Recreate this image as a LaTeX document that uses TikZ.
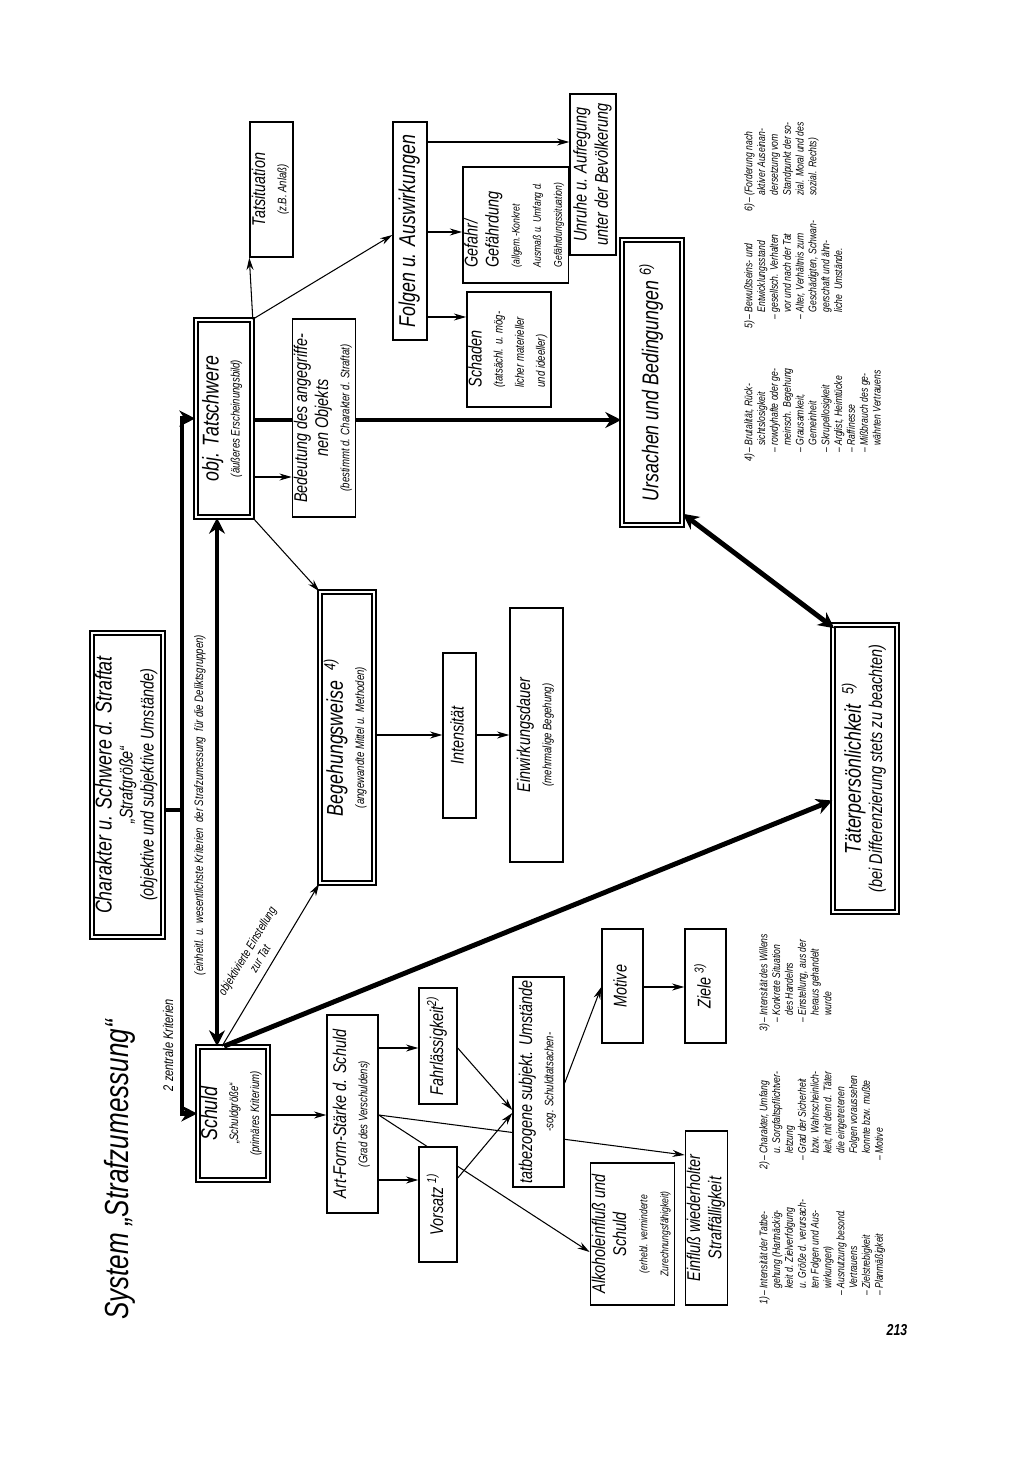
\documentclass[tikz,border=0pt]{standalone}
\usepackage{fontspec}
\setmainfont{Liberation Sans}[FakeStretch=0.78]
\usetikzlibrary{arrows.meta,calc,backgrounds}
\newcommand\rt[1]{\rotatebox{90}{\begin{tabular}{@{}c@{}}#1\end{tabular}}}
\newcommand\rtl[1]{\rotatebox{90}{\begin{tabular}{@{}l@{}}#1\end{tabular}}}
\newcommand\fz{\fontsize{5.8}{6.9}\selectfont}
\newcommand\fn{\fontsize{6.3}{7.3}\selectfont}
\newcommand\fm{\fontsize{7}{8.4}\selectfont}
\newcommand\fb{\fontsize{10.5}{12}\selectfont}
\newcommand\fB{\fontsize{13}{15}\selectfont}
\newcommand\sups[1]{\textsuperscript{#1}}
\begin{document}
\begin{tikzpicture}[x=0.02cm,y=-0.02cm,
  every node/.style={font=\itshape},
  box/.style={draw,line width=0.8pt,fill=white,inner sep=0pt},
  dbox/.style={draw,double,double distance=1.5pt,line width=0.9pt,fill=white,inner sep=0pt},
  arr/.style={-{Stealth[length=7pt,width=4pt]},line width=0.6pt},
  ln/.style={line width=0.6pt},
  thk/.style={line width=2.8pt},
  thkarr/.style={thk,-{Stealth[length=9pt,width=9pt]}},
  thkboth/.style={thk,{Stealth[length=9pt,width=9pt]}-{Stealth[length=9pt,width=9pt]}}]
\useasboundingbox (0,0) rectangle (1024,1462);
% coordinates
\coordinate (jA) at (182,810);
\foreach \v in {142,232,235,317,420,477,735,987,1048,1115,1180}{\coordinate (y\v) at (0,\v);}
% title
\node[rotate=90,font=\itshape\fontsize{19}{22}\selectfont] (title) at (120,1170) {System „Strafzumessung“};
% boxes
\node[dbox,minimum width=1.42cm,minimum height=6.08cm] (char) at (127.5,785)
  {\rt{\fB Charakter u. Schwere d. Straftat\\ \fb „Strafgröße“\\ \fb (objektive und subjektive Umstände)}};
\node[dbox,minimum width=1.40cm,minimum height=2.66cm] (schuld) at (233,1113.5)
  {\rt{\fB Schuld\\ \fm „Schuldgröße“\\ \fm (primäres Kriterium)}};
\node[dbox,minimum width=1.12cm,minimum height=3.94cm] (objT) at (224,418.5)
  {\rt{\fB obj. Tatschwere\\ \fm (äußeres Erscheinungsbild)}};
\node[box,minimum width=0.86cm,minimum height=2.7cm] (tatsit) at (271.5,189.5)
  {\rt{\fb Tatsituation\\ \fm (z.B. Anlaß)}};
\node[box,minimum width=1.16cm,minimum height=3.96cm] (bedeut) at (324,418)
  {\rt{\fb Bedeutung des angegriffe-\\ \fb nen Objekts\\ \fm (bestimmt d. Charakter d. Straftat)}};
\node[box,minimum width=0.68cm,minimum height=4.36cm] (folgen) at (410,231)
  {\rt{\fB Folgen u. Auswirkungen}};
\node[box,minimum width=1.64cm,minimum height=2.3cm] (schaden) at (509,349.5)
  {\rtl{\fb Schaden\\ \fm (tatsächl. u. mög-\\ \fm licher materieller\\ \fm und ideeller)}};
\node[box,minimum width=1.9cm,minimum height=2.32cm] (gefahr) at (515.5,225)
  {\rtl{\fb Gefahr/\\ \fb Gefährdung\\ \fn (allgem.-Konkret\\ \fn Ausmaß u. Umfang d.\\ \fn Gefährdungssituation)}};
\node[box,minimum width=0.92cm,minimum height=3.22cm] (unruhe) at (593,174.5)
  {\rt{\fb Unruhe u. Aufregung\\ \fb unter der Bevölkerung}};
\node[dbox,minimum width=1.2cm,minimum height=5.7cm] (urs) at (652,382.5)
  {\rt{\fB Ursachen und Bedingungen \sups{6)}}};
\node[dbox,minimum width=1.28cm,minimum height=5.74cm] (taet) at (865,768.5)
  {\rt{\fB Täterpersönlichkeit \ \sups{5)}\\ \fb (bei Differenzierung stets zu beachten)}};
\node[dbox,minimum width=1.08cm,minimum height=5.82cm] (begeh) at (347,737.5)
  {\rt{\fB Begehungsweise \ \sups{4)}\\ \fm (angewandte Mittel u. Methoden)}};
\node[box,minimum width=0.66cm,minimum height=3.3cm] (intens) at (459.5,735.5)
  {\rt{\fb Intensität}};
\node[box,minimum width=1.06cm,minimum height=5.08cm] (einw) at (536.5,735)
  {\rt{\fb Einwirkungsdauer\\ \fm (mehrmalige Begehung)}};
\node[box,minimum width=1.02cm,minimum height=3.96cm] (art) at (352.5,1114)
  {\rt{\fb Art-Form-Stärke d. Schuld\\ \fm (Grad des Verschuldens)}};
\node[box,minimum width=0.76cm,minimum height=2.32cm] (fahrl) at (438,1046)
  {\rt{\fb Fahrlässigkeit\sups{2)}}};
\node[box,minimum width=0.76cm,minimum height=2.3cm] (vors) at (438,1204.5)
  {\rt{\fb Vorsatz \sups{1)}}};
\node[box,minimum width=1.02cm,minimum height=4.2cm] (tatbez) at (538.5,1082)
  {\rt{\fb tatbezogene subjekt. Umstände\\ \fm -sog. Schuldtatsachen-}};
\node[box,minimum width=0.82cm,minimum height=2.28cm] (motive) at (622.5,986)
  {\rt{\fb Motive}};
\node[box,minimum width=0.82cm,minimum height=2.28cm] (ziele) at (705.5,986)
  {\rt{\fb Ziele \sups{3)}}};
\node[box,minimum width=0.82cm,minimum height=3.48cm] (einfl) at (706.5,1218)
  {\rt{\fb Einfluß wiederholter\\ \fb Straffälligkeit}};
\node[box,minimum width=1.58cm,minimum height=2.84cm] (alk) at (632.5,1234)
  {\rt{\fb Alkoholeinfluß und\\ \fb Schuld\\ \fn (erhebl. verminderte\\ \fn Zurechnungsfähigkeit)}};
% labels
\node[rotate=90,font=\itshape\fontsize{8}{9}\selectfont] (zk) at (168,1045) {2 zentrale Kriterien};
\node[rotate=90,font=\itshape\fm] (ek) at (200,805) {(einheitl. u. wesentlichste Kriterien \ der Strafzumessung \ für die Deliktsgruppen)};
% footnotes
\node[rotate=90,anchor=north west,inner sep=0pt,font=\itshape\fn] (f4) at (743,462) {\begin{tabular}{@{}l@{\,}l@{\,}l@{}}
4)&--&Brutalität, Rück-\\ &&sichtslosigkeit\\ &--&rowdyhafte oder ge-\\ &&meinsch. Begehung\\ &--&Grausamkeit,\\ &&Gemeinheit\\ &--&Skrupellosigkeit\\ &--&Arglist, Heimtücke\\ &--&Raffinesse\\ &--&Mißbrauch des ge-\\ &&währten Vertrauens\end{tabular}};
\node[rotate=90,anchor=north west,inner sep=0pt,font=\itshape\fn] (f5) at (743,329) {\begin{tabular}{@{}l@{\,}l@{\,}l@{}}
5)&--&Bewußtseins- und\\ &&Entwicklungsstand\\ &--&gesellsch. Verhalten\\ &&vor und nach der Tat\\ &--&Alter, Verhältnis zum\\ &&Geschädigten, Schwan-\\ &&gerschaft und ähn-\\ &&liche \ Umstände.\end{tabular}};
\node[rotate=90,anchor=north west,inner sep=0pt,font=\itshape\fn] (f6) at (743,212) {\begin{tabular}{@{}l@{\,}l@{\,}l@{}}
6)&--&(Forderung nach\\ &&aktiver Auseinan-\\ &&dersetzung vom\\ &&Standpunkt der so-\\ &&zial. Moral und des\\ &&sozial. Rechts)\end{tabular}};
\node[rotate=90,anchor=north west,inner sep=0pt,font=\itshape\fn] (f1) at (758,1305) {\begin{tabular}{@{}l@{\,}l@{\,}l@{}}
1)&--&Intensität der Tatbe-\\ &&gehung (Hartnäckig-\\ &&keit d. Zielverfolgung\\ &&u. Größe d. verursach-\\ &&ten Folgen und Aus-\\ &&wirkungen)\\ &--&Ausnutzung besond.\\ &&Vertrauens\\ &--&Zielstrebigkeit\\ &--&Planmäßigkeit\end{tabular}};
\node[rotate=90,anchor=north west,inner sep=0pt,font=\itshape\fn] (f2) at (758,1170) {\begin{tabular}{@{}l@{\,}l@{\,}l@{}}
2)&--&Charakter, Umfang\\ &&u. Sorgfaltspflichtver-\\ &&letzung\\ &--&Grad der Sicherheit\\ &&bzw. Wahrscheinlich-\\ &&keit, mit dem d. Täter\\ &&die eingetretenen\\ &&Folgen voraussehen\\ &&konnte bzw. mußte\\ &--&Motive\end{tabular}};
\node[rotate=90,anchor=north west,inner sep=0pt,font=\itshape\fn] (f3) at (758,1032) {\begin{tabular}{@{}l@{\,}l@{\,}l@{}}
3)&--&Intensität des Willens\\ &--&Konkrete Situation\\ &&des Handelns\\ &--&Einstellung, aus der\\ &&heraus gehandelt\\ &&wurde\end{tabular}};
\node[font=\itshape\bfseries\fontsize{9}{10}\selectfont] (pg) at (897,1330) {213};
% lines behind boxes
\begin{scope}[on background layer]
\draw[arr] (art.east |- y1115) -- (einfl.west |- 0,1155);
\draw[arr] (art.east |- y1115) -- (alk.north west |- 0,1252);
\end{scope}
% connectors
\draw[thk] (char.east |- jA) -- (jA);
\draw[thkarr] (jA) |- (objT.west);
\draw[thkarr] (jA) |- (schuld.west);
\draw[thkboth] ($(objT.south)+(-7,0)$) -- ($(schuld.north)+(-16,0)$);
\draw[arr] ($(schuld.north)+(-11,0)$) -- node[midway,sloped,above=1pt,font=\itshape\fm,align=center]{objektivierte Einstellung\\zur Tat} (begeh.south west);
\draw[arr] (objT.south east) -- (begeh.north west);
\draw[thkarr] ($(schuld.north)+(-9,0)$) -- ($(taet.west)+(0,32)$);
\draw[arr] (objT.north east) -- (tatsit.south west);
\draw[arr] (objT.north east) -- (folgen.west |- y235);
\draw[arr] (objT.east |- y477) -- (bedeut.west |- y477);
\draw[thk] (objT.east |- y420) -- (bedeut.west |- y420);
\draw[thkarr] (bedeut.east |- y420) -- (urs.west |- y420);
\draw[arr] (folgen.east |- y142) -- (unruhe.west |- y142);
\draw[arr] (folgen.east |- y232) -- (gefahr.west |- y232);
\draw[arr] (folgen.east |- y317) -- (schaden.west |- y317);
\draw[thkboth] ($(urs.south east)+(0,-12)$) -- ($(taet.north west)+(2,4)$);
\draw[arr] (begeh.east |- y735) -- (intens.west |- y735);
\draw[arr] (intens.east |- y735) -- (einw.west |- y735);
\draw[arr] (schuld.east |- y1115) -- (art.west |- y1115);
\draw[arr] (art.east |- y1048) -- (fahrl.west |- y1048);
\draw[arr] (art.east |- y1180) -- (vors.west |- y1180);
\draw[arr] (fahrl.east |- y1048) -- (tatbez.west |- 0,1110);
\draw[arr] (vors.east |- 0,1178) -- (tatbez.west |- 0,1113);
\draw[arr] (tatbez.east |- 0,1083) -- (motive.west |- y987);
\draw[arr] (motive.east |- y987) -- (ziele.west |- y987);
\end{tikzpicture}
\end{document}
